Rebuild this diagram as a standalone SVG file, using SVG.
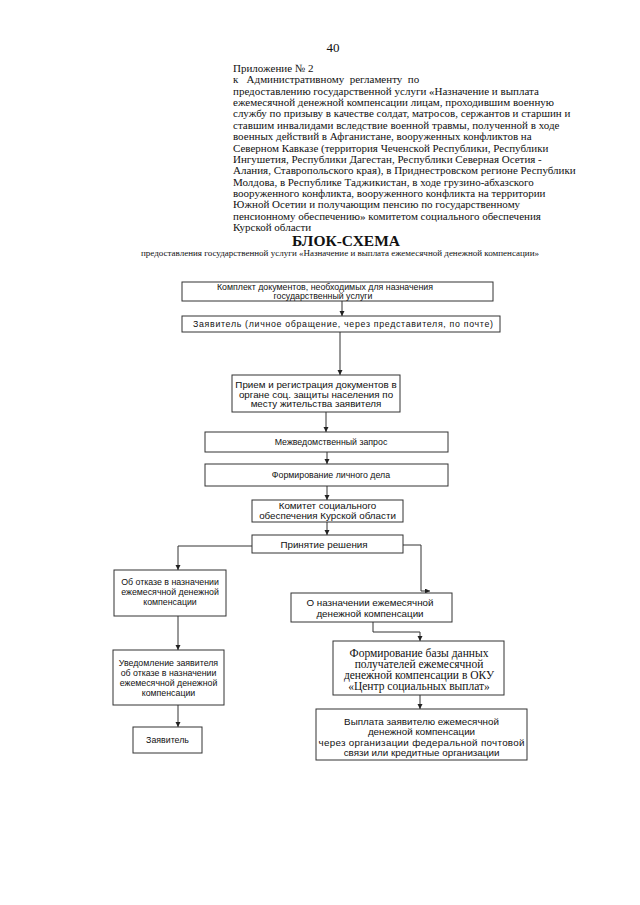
<svg xmlns="http://www.w3.org/2000/svg" width="640" height="905" viewBox="0 0 640 905">
<style>
.hdr{font-family:"Liberation Serif","Times New Roman",serif;font-size:11px;fill:#111}
.box{fill:#fff;stroke:#333;stroke-width:1}
.t{font-family:"Liberation Sans",Arial,sans-serif;font-size:8.8px;fill:#111;text-anchor:middle}
.tl{font-family:"Liberation Sans",Arial,sans-serif;font-size:9.8px;fill:#111;text-anchor:middle}
.ts{font-family:"Liberation Serif","Times New Roman",serif;font-size:11.5px;fill:#111;text-anchor:middle}
.ln{fill:none;stroke:#333;stroke-width:1}
</style>
<defs>
<marker id="ar" markerUnits="userSpaceOnUse" markerWidth="6" markerHeight="6" refX="5" refY="2.5" orient="auto">
<path d="M0,0 L5,2.5 L0,5 z" fill="#222"/>
</marker>
</defs>
<rect width="640" height="905" fill="#fff"/>
<g id="header">
<text x="333" y="52" font-family="Liberation Serif, serif" font-size="13" text-anchor="middle" fill="#111">40</text>
<text class="hdr" x="233" y="72">Приложение № 2</text>
<text class="hdr" x="233" y="83.4" style="white-space:pre">к   Административному  регламенту  по</text>
<text class="hdr" x="233" y="94.7">предоставлению государственной услуги «Назначение и выплата</text>
<text class="hdr" x="233" y="106">ежемесячной денежной компенсации лицам, проходившим военную</text>
<text class="hdr" x="233" y="117.4">службу по призыву в качестве солдат, матросов, сержантов и старшин и</text>
<text class="hdr" x="233" y="128.8">ставшим инвалидами вследствие военной травмы, полученной в ходе</text>
<text class="hdr" x="233" y="140.1">военных действий в Афганистане, вооруженных конфликтов на</text>
<text class="hdr" x="233" y="151.5">Северном Кавказе (территория Чеченской Республики, Республики</text>
<text class="hdr" x="233" y="162.8">Ингушетия, Республики Дагестан, Республики Северная Осетия -</text>
<text class="hdr" x="233" y="174.2">Алания, Ставропольского края), в Приднестровском регионе Республики</text>
<text class="hdr" x="233" y="185.5">Молдова, в Республике Таджикистан, в ходе грузино-абхазского</text>
<text class="hdr" x="233" y="196.9">вооруженного конфликта, вооруженного конфликта на территории</text>
<text class="hdr" x="233" y="208.2">Южной Осетии и получающим пенсию по государственному</text>
<text class="hdr" x="233" y="219.6">пенсионному обеспечению» комитетом социального обеспечения</text>
<text class="hdr" x="233" y="231">Курской области</text>
<text x="346" y="246" font-family="Liberation Serif, serif" font-size="15.5" font-weight="bold" text-anchor="middle" fill="#111">БЛОК-СХЕМА</text>
<text x="141" y="256" font-family="Liberation Serif, serif" font-size="7.5" fill="#111" textLength="398" lengthAdjust="spacingAndGlyphs">предоставления государственной услуги  «Назначение и выплата ежемесячной денежной компенсации»</text>
</g>
<g id="connectors">
<path class="ln" d="M342,301 V316" marker-end="url(#ar)"/>
<path class="ln" d="M340,332 V375" marker-end="url(#ar)"/>
<path class="ln" d="M326,412 V432" marker-end="url(#ar)"/>
<path class="ln" d="M327,452 V464" marker-end="url(#ar)"/>
<path class="ln" d="M327,486 V500" marker-end="url(#ar)"/>
<path class="ln" d="M327,522 V535" marker-end="url(#ar)"/>
<path class="ln" d="M252,546 H178 V570" marker-end="url(#ar)"/>
<path class="ln" d="M403,545 H421 V591 H430" marker-end="url(#ar)"/>
<path class="ln" d="M178,616 V650" marker-end="url(#ar)"/>
<path class="ln" d="M178,705 V727" marker-end="url(#ar)"/>
<path class="ln" d="M373,622 V632 H420 V641" marker-end="url(#ar)"/>
<path class="ln" d="M420,695 V709" marker-end="url(#ar)"/>
</g>
<g id="n1"><rect class="box" x="182" y="282" width="311" height="19"/>
<text class="t" x="325" y="290">Комплект документов, необходимых для назначения</text>
<text class="t" x="323" y="298.5">государственный услуги</text></g>
<g id="n2"><rect class="box" x="182" y="316" width="318" height="16"/>
<text class="t" x="343" y="327" font-size="9.5" textLength="300" lengthAdjust="spacing">Заявитель (личное обращение, через представителя, по почте)</text></g>
<g id="n3"><rect class="box" x="232" y="375" width="168" height="37"/>
<text class="tl" x="316" y="388">Прием и регистрация документов в</text>
<text class="tl" x="316" y="397.5">органе соц. защиты населения по</text>
<text class="tl" x="316" y="407">месту жительства заявителя</text></g>
<g id="n4"><rect class="box" x="205" y="432" width="243" height="20"/>
<text class="t" x="331" y="445" font-size="9.2">Межведомственный запрос</text></g>
<g id="n5"><rect class="box" x="205" y="464" width="243" height="22"/>
<text class="t" x="331" y="478">Формирование личного дела</text></g>
<g id="n6"><rect class="box" x="252" y="500" width="151" height="22"/>
<text class="tl" x="327.5" y="508.5">Комитет социального</text>
<text class="tl" x="327.5" y="518.5">обеспечения Курской области</text></g>
<g id="n7"><rect class="box" x="252" y="535" width="151" height="18"/>
<text class="tl" x="324" y="547.5">Принятие решения</text></g>
<g id="n8"><rect class="box" x="114" y="570" width="112" height="46"/>
<text class="t" x="170" y="584.5">Об отказе в назначении</text>
<text class="t" x="170" y="595">ежемесячной денежной</text>
<text class="t" x="170" y="605">компенсации</text></g>
<g id="n9"><rect class="box" x="291" y="593" width="161" height="29"/>
<text class="tl" x="370" y="606">О назначении ежемесячной</text>
<text class="tl" x="370" y="617">денежной компенсации</text></g>
<g id="n10"><rect class="box" x="333" y="641" width="171" height="54"/>
<text class="ts" x="419" y="656.5">Формирование базы данных</text>
<text class="ts" x="419" y="667.5">получателей ежемесячной</text>
<text class="ts" x="419" y="678.5">денежной компенсации в ОКУ</text>
<text class="ts" x="419" y="689.5">«Центр социальных выплат»</text></g>
<g id="n11"><rect class="box" x="316" y="709" width="211" height="51"/>
<text class="tl" x="421.5" y="724.5">Выплата заявителю ежемесячной</text>
<text class="tl" x="421.5" y="735">денежной компенсации</text>
<text class="tl" x="421.5" y="745.5" textLength="206" lengthAdjust="spacing">через организации федеральной почтовой</text>
<text class="tl" x="421.5" y="756">связи или кредитные организации</text></g>
<g id="n12"><rect class="box" x="113" y="650" width="111" height="55"/>
<text class="t" x="168.5" y="666">Уведомление заявителя</text>
<text class="t" x="168.5" y="676">об отказе в назначении</text>
<text class="t" x="168.5" y="686">ежемесячной денежной</text>
<text class="t" x="168.5" y="696">компенсации</text></g>
<g id="n13"><rect class="box" x="133" y="727" width="69" height="26"/>
<text class="t" x="167.5" y="743">Заявитель</text></g>
</svg>
